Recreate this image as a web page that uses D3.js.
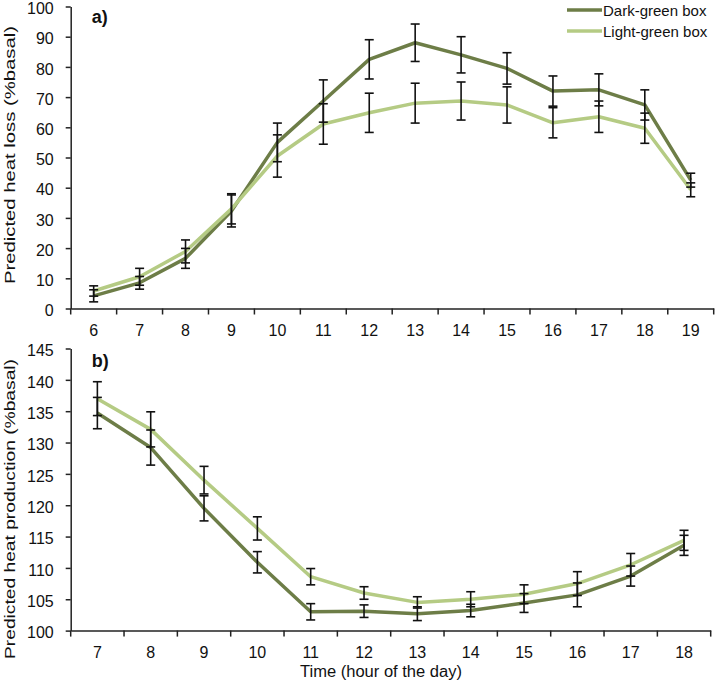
<!DOCTYPE html>
<html><head><meta charset="utf-8">
<script src="https://cdn.jsdelivr.net/npm/d3@7"></script>
<style>
body{margin:0;background:#fff;}
text{font-family:"Liberation Sans",Arial,sans-serif;}
</style></head>
<body><svg id="c" width="718" height="685"></svg>
<script>
// Panel a: predicted heat loss
const hoursA = [6,7,8,9,10,11,12,13,14,15,16,17,18,19];
const darkA = [4.2,8.5,16.6,32.3,55.0,68.7,82.5,88.0,84.0,79.5,72.0,72.4,67.4,42.5];
const darkAErr = [2.0,2.1,3.3,5.3,6.4,7.0,6.5,6.2,6.0,5.2,5.0,5.3,5.0,2.3];
const lightA = [5.8,10.5,18.9,33.0,50.5,61.1,64.8,68.0,68.7,67.4,61.5,63.5,59.7,39.3];
const lightAErr = [1.7,2.8,3.8,5.0,7.0,6.7,6.5,6.6,6.3,6.0,5.0,5.2,5.0,2.3];
const ticksA = [0,10,20,30,40,50,60,70,80,90,100];
// Panel b: predicted heat production
const hoursB = [7,8,9,10,11,12,13,14,15,16,17,18];
const darkB = [134.7,129.2,119.5,110.9,103.0,103.1,102.7,103.2,104.4,105.7,108.7,113.6];
const darkBErr = [2.5,2.8,2.0,1.7,1.3,1.0,1.1,1.0,1.5,1.9,1.6,1.6];
const lightB = [137.0,132.1,124.0,116.3,108.6,106.0,104.5,105.0,105.8,107.5,110.5,114.4];
const lightBErr = [2.7,2.8,2.2,1.85,1.3,1.0,0.9,1.2,1.5,1.9,1.8,1.6];
const ticksB = [100,105,110,115,120,125,130,135,140,145];
const seriesNames = ["Dark-green box","Light-green box"];
const colors = ["#6d7d47","#b5cb84"];

const svg = d3.select("#c");

function panel(opt){
  const g = svg.append("g");
  const x = d3.scaleBand().domain(opt.hours).range([opt.x0, opt.x1]).padding(0);
  const y = d3.scaleLinear().domain(opt.ydom).range([opt.y0, opt.y1]);
  const cx = d => x(d) + x.bandwidth()/2;
  // y axis
  const ya = d3.axisLeft(y).tickValues(opt.yticks).tickSize(5).tickSizeOuter(0);
  const yg = g.append("g").attr("transform",`translate(${opt.x0},0)`).call(ya);
  yg.selectAll("text").attr("font-size",16).attr("fill","#111").attr("x",-17).attr("dy","0.45em");
  yg.select(".domain").attr("stroke","#222").attr("stroke-width",1.5);
  yg.selectAll(".tick line").attr("stroke","#222").attr("stroke-width",1.5);
  // x axis (labels at category centres, ticks at boundaries)
  const xa = d3.axisBottom(x).tickSize(0).tickPadding(opt.labelPad);
  const xg = g.append("g").attr("transform",`translate(0,${opt.y0})`).call(xa);
  xg.select(".domain").attr("stroke","#222").attr("stroke-width",1.5);
  xg.selectAll("text").attr("font-size",16).attr("fill","#111");
  const bounds = opt.hours.map(h=>x(h)).concat([opt.x1]);
  xg.selectAll(".btick").data(bounds).join("line").attr("class","btick")
    .attr("x1",d=>d).attr("x2",d=>d).attr("y1",0).attr("y2",6)
    .attr("stroke","#222").attr("stroke-width",1.5);
  // lines
  const series = [{v:opt.dark,e:opt.darkErr,c:colors[0]},{v:opt.light,e:opt.lightErr,c:colors[1]}];
  const line = d3.line().x((d,i)=>cx(opt.hours[i])).y(d=>y(d));
  series.forEach(s=>{
    g.append("path").datum(s.v).attr("d",line).attr("fill","none")
      .attr("stroke",s.c).attr("stroke-width",3.5).attr("stroke-linejoin","round");
  });
  // error bars
  series.forEach(s=>{
    const eb = g.append("g");
    s.v.forEach((v,i)=>{
      const px = cx(opt.hours[i]);
      const lo = y(v - s.e[i]), hi = y(v + s.e[i]);
      eb.append("line").attr("x1",px).attr("x2",px).attr("y1",lo).attr("y2",hi)
        .attr("stroke","#111").attr("stroke-width",1.6);
      [lo,hi].forEach(yy=>eb.append("line").attr("x1",px-4.5).attr("x2",px+4.5)
        .attr("y1",yy).attr("y2",yy).attr("stroke","#111").attr("stroke-width",1.6));
    });
  });
  // panel label
  g.append("text").attr("x",opt.x0+21).attr("y",opt.labelY).attr("font-size",18)
    .attr("font-weight","bold").attr("fill","#111").text(opt.label);
  // y title
  g.append("text").attr("transform",`translate(15,${opt.titleY}) rotate(-90)`)
    .attr("text-anchor","middle").attr("font-size",15).attr("fill","#111")
    .attr("textLength",opt.titleLen).attr("lengthAdjust","spacingAndGlyphs").text(opt.ytitle);
  return {x,y};
}

panel({hours:hoursA, dark:darkA, darkErr:darkAErr, light:lightA, lightErr:lightAErr,
  x0:70.7, x1:713.7, y0:308.5, y1:6.5, ydom:[0,100], yticks:ticksA, labelPad:16,
  label:"a)", labelY:23, ytitle:"Predicted heat loss (%basal)", titleY:155, titleLen:258});
panel({hours:hoursB, dark:darkB, darkErr:darkBErr, light:lightB, lightErr:lightBErr,
  x0:70.7, x1:710.7, y0:630.6, y1:348.5, ydom:[100,145], yticks:ticksB, labelPad:16,
  label:"b)", labelY:367, ytitle:"Predicted heat production (%basal)", titleY:509, titleLen:300});

// x title
svg.append("text").attr("x",381).attr("y",677).attr("text-anchor","middle")
  .attr("font-size",16).attr("fill","#111").attr("textLength",162)
  .attr("lengthAdjust","spacingAndGlyphs").text("Time (hour of the day)");

// legend
const lg = svg.append("g");
seriesNames.forEach((n,i)=>{
  const yy = 10 + i*21;
  lg.append("line").attr("x1",567).attr("x2",602).attr("y1",yy).attr("y2",yy)
    .attr("stroke",colors[i]).attr("stroke-width",3.5);
  lg.append("text").attr("x",603).attr("y",yy+5.5).attr("font-size",15).attr("fill","#111").text(n);
});
</script></body></html>
